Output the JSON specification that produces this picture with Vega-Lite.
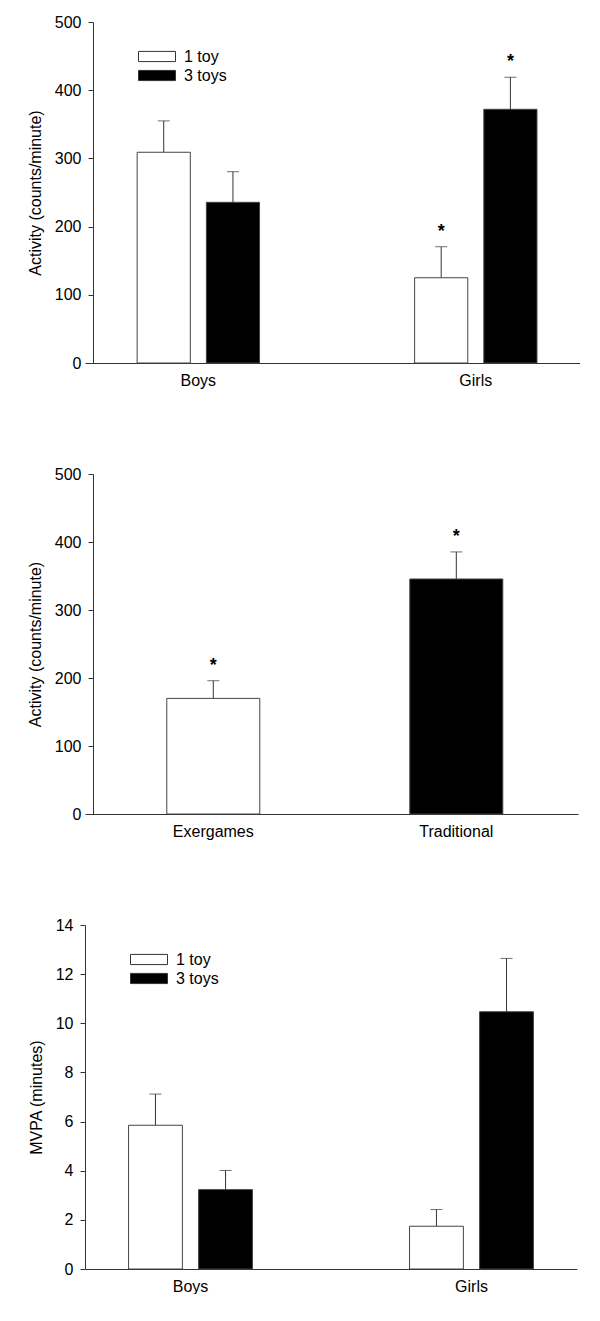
{
  "$schema": "https://vega.github.io/schema/vega-lite/v6.json",
  "padding": {"top": 14, "left": 27, "right": 0, "bottom": 0},
  "background": "white",
  "spacing": 78,
  "config": {
    "font": "Liberation Sans",
    "view": {"stroke": null},
    "axis": {
      "labelFont": "Liberation Sans", "titleFont": "Liberation Sans",
      "labelFontSize": 16, "titleFontSize": 16, "titleFontWeight": "normal",
      "labelColor": "#000", "titleColor": "#000",
      "domainColor": "#333", "tickColor": "#333", "grid": false
    },
    "axisX": {"ticks": false, "labelAngle": 0, "labelPadding": 9, "title": null},
    "axisY": {"tickSize": 5, "labelPadding": 7, "titlePadding": 11},
    "legend": {
      "orient": "none", "legendX": 62, "legendY": 24.5, "title": null,
      "symbolType": "M-2,-0.55H2V0.55H-2Z", "symbolSize": 342,
      "symbolStrokeColor": "#333", "symbolStrokeWidth": 1,
      "labelFont": "Liberation Sans", "labelFontSize": 16, "labelColor": "#000",
      "labelOffset": 17, "rowPadding": 1, "padding": 0
    }
  },
  "vconcat": [
    {
      "width": 495, "height": 341,
      "data": {"values": [
        {"sex": "Boys", "toys": "1 toy", "mean": 309, "upper": 355, "sig": ""},
        {"sex": "Boys", "toys": "3 toys", "mean": 235.6, "upper": 280.5, "sig": ""},
        {"sex": "Girls", "toys": "1 toy", "mean": 125, "upper": 170.5, "sig": "*"},
        {"sex": "Girls", "toys": "3 toys", "mean": 372, "upper": 419, "sig": "*"}
      ]},
      "encoding": {
        "x": {"field": "sex", "type": "nominal", "sort": ["Boys", "Girls"], "scale": {"paddingInner": 0.559, "paddingOuter": 0.1715, "align": 0.548}},
        "xOffset": {"field": "toys", "type": "nominal", "sort": ["1 toy", "3 toys"], "scale": {"paddingInner": 0.232, "paddingOuter": 0}}
      },
      "layer": [
        {"mark": {"type": "rule", "color": "#333", "strokeWidth": 1},
         "encoding": {
           "y": {"field": "mean", "type": "quantitative", "title": "Activity (counts/minute)", "scale": {"domain": [0, 500], "nice": false}, "axis": {"values": [0, 100, 200, 300, 400, 500], "offset": -8}},
           "y2": {"field": "upper"}}},
        {"mark": {"type": "tick", "color": "#333", "thickness": 1, "size": 12},
         "encoding": {"y": {"field": "upper", "type": "quantitative", "title": "Activity (counts/minute)"}}},
        {"mark": {"type": "bar", "stroke": "#444", "strokeWidth": 1},
         "encoding": {
           "y": {"field": "mean", "type": "quantitative", "title": "Activity (counts/minute)"},
           "fill": {"field": "toys", "type": "nominal", "scale": {"domain": ["1 toy", "3 toys"], "range": ["white", "black"]}}}},
        {"transform": [{"filter": "datum.sig == '*'"}],
         "mark": {"type": "text", "fontSize": 18, "fontWeight": "bold", "baseline": "alphabetic", "dy": -10, "color": "#000"},
         "encoding": {"y": {"field": "upper", "type": "quantitative", "title": "Activity (counts/minute)"}, "text": {"field": "sig"}}}
      ]
    },
    {
      "width": 493, "height": 340,
      "data": {"values": [
        {"game": "Exergames", "mean": 170, "upper": 196, "sig": "*"},
        {"game": "Traditional", "mean": 345.6, "upper": 385.4, "sig": "*"}
      ]},
      "encoding": {
        "x": {"field": "game", "type": "nominal", "sort": ["Exergames", "Traditional"], "scale": {"paddingInner": 0.6173, "paddingOuter": 0.323, "align": 0.521}}
      },
      "layer": [
        {"mark": {"type": "rule", "color": "#333", "strokeWidth": 1},
         "encoding": {
           "y": {"field": "mean", "type": "quantitative", "title": "Activity (counts/minute)", "scale": {"domain": [0, 500], "nice": false}, "axis": {"values": [0, 100, 200, 300, 400, 500], "offset": -8}},
           "y2": {"field": "upper"}}},
        {"mark": {"type": "tick", "color": "#333", "thickness": 1, "size": 12},
         "encoding": {"y": {"field": "upper", "type": "quantitative", "title": "Activity (counts/minute)"}}},
        {"mark": {"type": "bar", "stroke": "#444", "strokeWidth": 1},
         "encoding": {
           "y": {"field": "mean", "type": "quantitative", "title": "Activity (counts/minute)"},
           "fill": {"field": "game", "type": "nominal", "scale": {"domain": ["Exergames", "Traditional"], "range": ["white", "black"]}, "legend": null}}},
        {"transform": [{"filter": "datum.sig == '*'"}],
         "mark": {"type": "text", "fontSize": 18, "fontWeight": "bold", "baseline": "alphabetic", "dy": -10, "color": "#000"},
         "encoding": {"y": {"field": "upper", "type": "quantitative", "title": "Activity (counts/minute)"}, "text": {"field": "sig"}}}
      ]
    },
    {
      "width": 492, "height": 344,
      "data": {"values": [
        {"sex": "Boys", "toys": "1 toy", "mean": 5.85, "upper": 7.12},
        {"sex": "Boys", "toys": "3 toys", "mean": 3.23, "upper": 4.01},
        {"sex": "Girls", "toys": "1 toy", "mean": 1.74, "upper": 2.42},
        {"sex": "Girls", "toys": "3 toys", "mean": 10.47, "upper": 12.64}
      ]},
      "encoding": {
        "x": {"field": "sex", "type": "nominal", "sort": ["Boys", "Girls"], "scale": {"paddingInner": 0.559, "paddingOuter": 0.155}},
        "xOffset": {"field": "toys", "type": "nominal", "sort": ["1 toy", "3 toys"], "scale": {"paddingInner": 0.232, "paddingOuter": 0}}
      },
      "layer": [
        {"mark": {"type": "rule", "color": "#333", "strokeWidth": 1},
         "encoding": {
           "y": {"field": "mean", "type": "quantitative", "title": "MVPA (minutes)", "scale": {"domain": [0, 14], "nice": false}, "axis": {"values": [0, 2, 4, 6, 8, 10, 12, 14]}},
           "y2": {"field": "upper"}}},
        {"mark": {"type": "tick", "color": "#333", "thickness": 1, "size": 12},
         "encoding": {"y": {"field": "upper", "type": "quantitative", "title": "MVPA (minutes)"}}},
        {"mark": {"type": "bar", "stroke": "#444", "strokeWidth": 1},
         "encoding": {
           "y": {"field": "mean", "type": "quantitative", "title": "MVPA (minutes)"},
           "fill": {"field": "toys", "type": "nominal", "scale": {"domain": ["1 toy", "3 toys"], "range": ["white", "black"]}, "legend": {"legendX": 54}}}}
      ]
    }
  ],
  "resolve": {"scale": {"fill": "independent", "x": "independent", "y": "independent", "xOffset": "independent"}, "legend": {"fill": "independent"}}
}
